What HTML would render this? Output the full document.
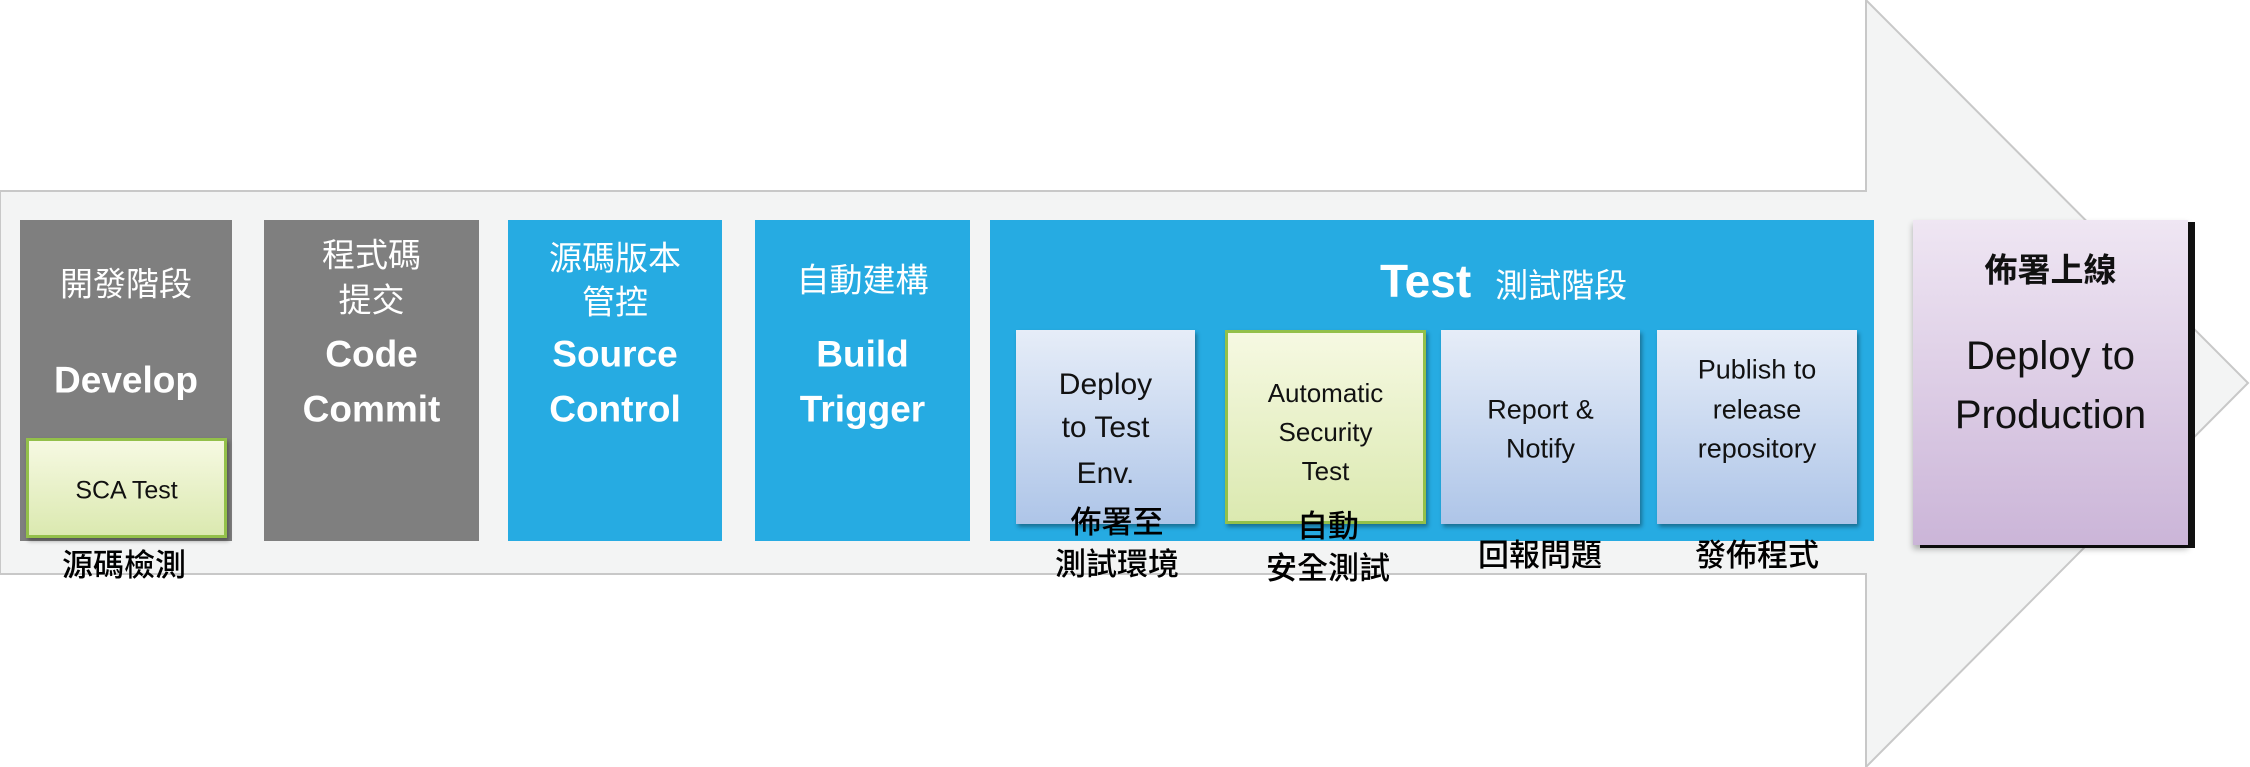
<!DOCTYPE html>
<html><head><meta charset="utf-8"><style>
body{margin:0;width:2250px;height:767px;background:#fff;position:relative;overflow:hidden;font-family:"Liberation Sans","Noto Sans CJK TC",sans-serif}
.a{position:absolute}
.t{position:absolute;left:0;right:0;text-align:center;transform:translateY(-50%);white-space:nowrap;line-height:1}
.g{background:#7f7f7f}
.b{background:#26abe2}
.w{color:#fff}
.cj{font-size:33px}
.en{font-size:37px;font-weight:bold}
.sub{background:linear-gradient(#e6edf8,#aec5e8);box-shadow:2px 3px 4px rgba(0,0,0,.35);color:#111}
.grn{background:linear-gradient(#f6f9e2,#dbe9b0);border:3px solid #93c04a;box-sizing:border-box;box-shadow:2px 3px 4px rgba(0,0,0,.35);color:#111}
.st{font-size:28px}
.lb{position:absolute;font-size:31px;color:#000;text-align:center;line-height:1.35;transform:translateX(-50%);font-weight:500}
</style></head><body>
<svg class="a" style="left:0;top:0" width="2250" height="767">
<polygon points="0,191 1866,191 1866,0 2248,383 1866,767 1866,574 0,574" fill="#f3f4f4" stroke="#c8c8c8" stroke-width="2"/>
</svg>
<div class="a g" style="left:20px;top:220px;width:212px;height:321px">
<div class="t w cj" style="top:64px">開發階段</div>
<div class="t w en" style="top:160px">Develop</div>
</div>
<div class="a grn" style="left:26px;top:438px;width:201px;height:100px"><div class="t st" style="top:50px;font-size:25px">SCA Test</div></div>
<div class="lb" style="left:124px;top:545px">源碼檢測</div>
<div class="a g" style="left:264px;top:220px;width:215px;height:321px">
<div class="t w cj" style="top:35px">程式碼</div><div class="t w cj" style="top:80px">提交</div>
<div class="t w en" style="top:134px">Code</div><div class="t w en" style="top:189px">Commit</div>
</div>
<div class="a b" style="left:508px;top:220px;width:214px;height:321px">
<div class="t w cj" style="top:38px">源碼版本</div><div class="t w cj" style="top:82px">管控</div>
<div class="t w en" style="top:134px">Source</div><div class="t w en" style="top:189px">Control</div>
</div>
<div class="a b" style="left:755px;top:220px;width:215px;height:321px">
<div class="t w cj" style="top:60px">自動建構</div>
<div class="t w en" style="top:134px">Build</div><div class="t w en" style="top:189px">Trigger</div>
</div>
<div class="a b" style="left:990px;top:220px;width:884px;height:321px">
<div class="a w" style="left:390px;top:34px;white-space:nowrap"><span style="font-size:46px;font-weight:bold">Test</span><span style="font-size:33px;margin-left:24px">測試階段</span></div>
</div>
<div class="a sub" style="left:1016px;top:330px;width:179px;height:194px">
<div class="t st" style="top:55px;font-size:30px">Deploy</div><div class="t st" style="top:98px;font-size:30px">to Test</div><div class="t st" style="top:144px;font-size:30px">Env.</div></div>
<div class="a grn" style="left:1225px;top:330px;width:201px;height:194px">
<div class="t st" style="top:60px;font-size:26px">Automatic</div><div class="t st" style="top:99px;font-size:26px">Security</div><div class="t st" style="top:138px;font-size:26px">Test</div></div>
<div class="a sub" style="left:1441px;top:330px;width:199px;height:194px">
<div class="t st" style="top:80px;font-size:27px">Report &amp;</div><div class="t st" style="top:119px;font-size:27px">Notify</div></div>
<div class="a sub" style="left:1657px;top:330px;width:200px;height:194px">
<div class="t st" style="top:40px;font-size:27px">Publish to</div><div class="t st" style="top:80px;font-size:27px">release</div><div class="t st" style="top:119px;font-size:27px">repository</div></div>
<div class="lb" style="left:1117px;top:502px">佈署至<br>測試環境</div>
<div class="lb" style="left:1328px;top:506px">自動<br>安全測試</div>
<div class="lb" style="left:1540px;top:535px">回報問題</div>
<div class="lb" style="left:1757px;top:535px">發佈程式</div>
<div class="a" style="left:1920px;top:222px;width:275px;height:326px;background:#111"></div>
<div class="a" style="left:1913px;top:220px;width:275px;height:325px;background:linear-gradient(#efe6f3,#cbb5d8);box-shadow:0 4px 6px rgba(0,0,0,.3)">
<div class="t cj" style="top:50px;color:#111;font-weight:bold">佈署上線</div>
<div class="t" style="top:136px;font-size:40px;color:#111">Deploy to</div>
<div class="t" style="top:195px;font-size:40px;color:#111">Production</div>
</div>
</body></html>
